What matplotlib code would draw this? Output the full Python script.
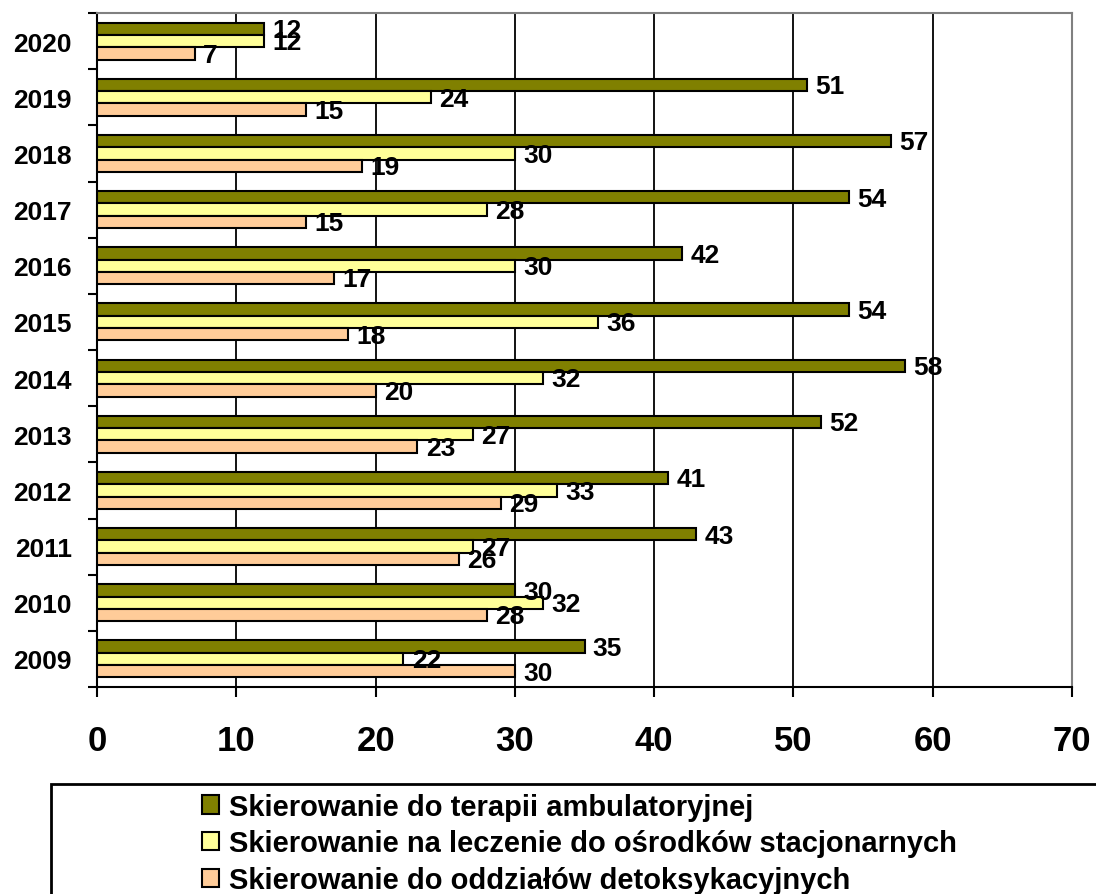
import numpy as np
import matplotlib.pyplot as plt
from matplotlib.patches import Patch, Rectangle

plt.rcParams['font.family'] = ['Liberation Sans', 'DejaVu Sans']
plt.rcParams['font.weight'] = 'bold'

# Data (2009 at the bottom, 2020 at the top)
years = [2009, 2010, 2011, 2012, 2013, 2014, 2015, 2016, 2017, 2018, 2019, 2020]
ambulatoryjna = [35, 30, 43, 41, 52, 58, 54, 42, 54, 57, 51, 12]
stacjonarne   = [22, 32, 27, 33, 27, 32, 36, 30, 28, 30, 24, 12]
detoks        = [30, 28, 26, 29, 23, 20, 18, 17, 15, 19, 15, 7]

labels = ["Skierowanie do terapii ambulatoryjnej",
          "Skierowanie na leczenie do ośrodków stacjonarnych",
          "Skierowanie do oddziałów detoksykacyjnych"]
colors = ["#808000", "#FFFF99", "#FFCC99"]

H = 0.22
y = np.arange(len(years))

fig = plt.figure(figsize=(10.96, 8.95), dpi=100)
ax = fig.add_axes([97/1096, 1 - 688/895, (1072 - 97)/1096, (688 - 14)/895])

series = [ambulatoryjna, stacjonarne, detoks]
offsets = [H, 0, -H]
for vals, off, c in zip(series, offsets, colors):
    ax.barh(y + off, vals, height=H, color=c, edgecolor="black", linewidth=1.5, zorder=3)
    for yi, v in zip(y, vals):
        ax.annotate(str(v), (v, yi + off), xytext=(6, -1), textcoords="offset points",
                    ha="left", va="center", fontsize=19, fontweight="bold", zorder=5)

ax.set_xlim(0, 70)
ax.set_ylim(-0.5, len(years) - 0.5)
ax.set_xticks(np.arange(0, 71, 10))
ax.tick_params(axis="x", which="major", direction="out", length=7, width=1.5,
               labelsize=25, pad=20)
for t in ax.get_xticklabels():
    t.set_fontweight("bold")

ax.set_yticks(y)
ax.set_yticklabels([str(v) for v in years], fontsize=19, fontweight="bold")
ax.set_yticks(np.arange(-0.5, len(years), 1), minor=True)
ax.tick_params(axis="y", which="major", length=0, pad=18)
ax.tick_params(axis="y", which="minor", direction="out", length=6.5, width=1.5)

ax.xaxis.grid(True, color="black", linewidth=1.3, zorder=0)
ax.set_axisbelow(True)
ax.spines["left"].set_linewidth(1.5)
ax.spines["bottom"].set_linewidth(1.5)
ax.spines["top"].set_color("#808080")
ax.spines["right"].set_color("#808080")
ax.spines["top"].set_linewidth(1.5)
ax.spines["right"].set_linewidth(1.5)

# legend box (runs off the bottom and right edge)
fig.patches.append(Rectangle((51/1096, -0.05), 1.1, (1 - 785/895) + 0.05,
                             transform=fig.transFigure, fill=False,
                             edgecolor="black", linewidth=2))
handles = [Patch(facecolor=c, edgecolor="black", linewidth=1.5) for c in colors]
fig.legend(handles, labels, loc="upper left", bbox_to_anchor=(190/1096, 1 - 782/895),
           frameon=False, prop={"weight": "bold", "size": 21},
           handlelength=0.6, handleheight=0.6, handletextpad=0.35, labelspacing=0.3,
           borderaxespad=0)

fig.savefig("out.png", dpi=100)
